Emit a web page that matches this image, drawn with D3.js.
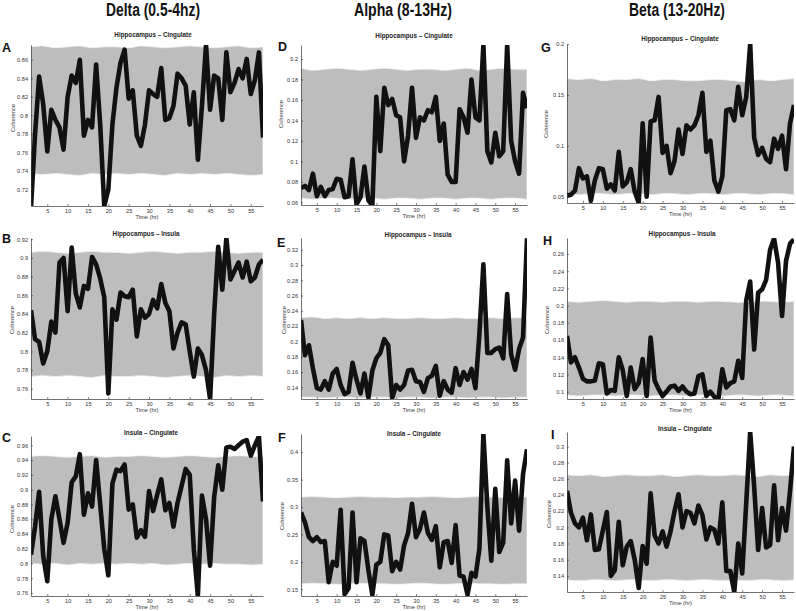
<!DOCTYPE html>
<html><head><meta charset="utf-8">
<script src="https://cdn.jsdelivr.net/npm/d3@7"></script>
<style>body{margin:0;background:#fff}</style>
</head><body><svg id="c" width="796" height="611"></svg>
<script>
// ---------- DATA ----------
const hours = d3.range(1, 59);            // 1..58 hr
const bandHours = [1,4,7,10,13,16,19,22,25,28,31,34,37,40,43,46,49,52,55,58];
const xTicks = [5,10,15,20,25,30,35,40,45,50,55];

const bandNames = ["Delta (0.5-4hz)", "Alpha (8-13Hz)", "Beta (13-20Hz)"];
const pairNames = ["Hippocampus \u2013 Cingulate", "Hippocampus \u2013 Insula", "Insula \u2013 Cingulate"];
const panelLetters = ["A","B","C","D","E","F","G","H","I"];

// Delta
const deltaHippCing = [0.700,0.780,0.842,0.812,0.761,0.806,0.795,0.787,0.763,0.820,0.843,0.835,0.860,0.778,0.795,0.787,0.855,0.790,0.702,0.720,
  0.790,0.830,0.857,0.871,0.818,0.827,0.778,0.767,0.790,0.827,0.823,0.820,0.851,0.795,0.797,0.810,0.845,0.840,0.832,0.790,
  0.825,0.752,0.810,0.876,0.806,0.843,0.840,0.795,0.868,0.825,0.835,0.850,0.840,0.861,0.823,0.838,0.868,0.776];
const deltaHippIns = [0.844,0.813,0.810,0.787,0.800,0.832,0.820,0.895,0.900,0.843,0.911,0.862,0.847,0.870,0.867,0.901,0.893,0.878,0.858,0.755,
  0.845,0.834,0.863,0.859,0.858,0.866,0.816,0.845,0.836,0.840,0.855,0.846,0.872,0.852,0.843,0.803,0.820,0.831,0.829,0.800,
  0.773,0.803,0.796,0.780,0.749,0.840,0.912,0.866,0.921,0.877,0.886,0.895,0.879,0.896,0.875,0.879,0.893,0.898];
const deltaInsCing = [0.812,0.850,0.897,0.810,0.776,0.860,0.891,0.860,0.828,0.855,0.910,0.918,0.948,0.866,0.895,0.877,0.940,0.880,0.820,0.784,
  0.908,0.927,0.925,0.934,0.873,0.880,0.835,0.845,0.836,0.898,0.871,0.893,0.914,0.872,0.882,0.850,0.882,0.905,0.928,0.920,
  0.820,0.756,0.892,0.860,0.797,0.890,0.933,0.900,0.957,0.958,0.955,0.960,0.965,0.967,0.946,0.960,0.972,0.884];
// Alpha
const alphaHippCing = [0.074,0.076,0.072,0.088,0.066,0.075,0.066,0.072,0.073,0.083,0.082,0.065,0.066,0.102,0.058,0.065,0.095,0.062,0.057,0.163,
  0.110,0.172,0.155,0.161,0.145,0.143,0.100,0.125,0.172,0.123,0.143,0.140,0.150,0.148,0.163,0.120,0.137,0.087,0.080,0.080,
  0.151,0.143,0.128,0.180,0.143,0.140,0.214,0.110,0.099,0.128,0.105,0.110,0.214,0.120,0.100,0.088,0.167,0.152];
const alphaHippIns = [0.228,0.182,0.195,0.165,0.139,0.137,0.148,0.137,0.158,0.164,0.143,0.131,0.134,0.172,0.150,0.132,0.158,0.126,0.162,0.178,
  0.185,0.203,0.195,0.126,0.143,0.137,0.143,0.162,0.163,0.148,0.147,0.134,0.152,0.155,0.168,0.129,0.148,0.137,0.133,0.165,
  0.143,0.160,0.150,0.164,0.139,0.210,0.301,0.185,0.185,0.190,0.192,0.178,0.262,0.183,0.163,0.190,0.205,0.335];
const alphaInsCing = [0.290,0.272,0.245,0.238,0.245,0.236,0.238,0.163,0.200,0.193,0.295,0.141,0.152,0.290,0.163,0.243,0.238,0.185,0.140,0.195,
  0.200,0.250,0.248,0.183,0.200,0.186,0.230,0.252,0.306,0.245,0.260,0.290,0.253,0.240,0.265,0.190,0.236,0.238,0.198,0.267,
  0.175,0.173,0.140,0.180,0.173,0.224,0.433,0.300,0.202,0.333,0.218,0.235,0.385,0.270,0.348,0.257,0.360,0.405];
// Beta
const betaHippCing = [0.051,0.052,0.056,0.078,0.068,0.070,0.046,0.066,0.078,0.077,0.058,0.062,0.056,0.094,0.060,0.064,0.077,0.055,0.044,0.122,
  0.050,0.124,0.125,0.148,0.093,0.100,0.073,0.085,0.116,0.092,0.120,0.116,0.120,0.130,0.152,0.094,0.105,0.066,0.055,0.070,
  0.135,0.136,0.125,0.158,0.130,0.148,0.200,0.108,0.091,0.098,0.087,0.084,0.107,0.097,0.110,0.077,0.122,0.140];
const betaHippIns = [0.165,0.134,0.140,0.128,0.115,0.112,0.112,0.113,0.133,0.132,0.098,0.102,0.101,0.140,0.125,0.095,0.128,0.103,0.110,0.138,
  0.095,0.163,0.113,0.103,0.095,0.100,0.106,0.107,0.101,0.106,0.100,0.097,0.098,0.118,0.120,0.095,0.100,0.094,0.091,0.126,
  0.105,0.110,0.112,0.136,0.116,0.206,0.228,0.149,0.215,0.219,0.230,0.265,0.278,0.250,0.188,0.252,0.272,0.277];
const betaInsCing = [0.245,0.218,0.205,0.200,0.212,0.184,0.216,0.172,0.173,0.196,0.219,0.140,0.147,0.207,0.153,0.176,0.183,0.160,0.125,0.177,
  0.155,0.242,0.190,0.180,0.195,0.176,0.195,0.220,0.241,0.200,0.220,0.218,0.205,0.227,0.215,0.185,0.200,0.197,0.180,0.231,
  0.146,0.146,0.120,0.180,0.143,0.230,0.318,0.250,0.172,0.224,0.175,0.178,0.252,0.184,0.224,0.196,0.245,0.300];

// Surrogate (shuffled) significance bands: upper / lower edges at bandHours
const bandAHi = [0.874,0.875,0.873,0.874,0.875,0.873,0.874,0.874,0.873,0.875,0.874,0.873,0.874,0.875,0.874,0.873,0.874,0.875,0.873,0.874];
const bandALo = [0.737,0.736,0.737,0.736,0.735,0.737,0.736,0.737,0.736,0.737,0.736,0.735,0.737,0.736,0.737,0.736,0.737,0.736,0.735,0.736];
const bandBHi = [0.906,0.907,0.906,0.905,0.906,0.907,0.906,0.906,0.905,0.906,0.907,0.906,0.905,0.906,0.906,0.907,0.906,0.905,0.906,0.906];
const bandBLo = [0.773,0.774,0.773,0.774,0.773,0.772,0.774,0.773,0.773,0.774,0.773,0.772,0.773,0.774,0.773,0.772,0.774,0.773,0.774,0.773];
const bandCHi = [0.945,0.946,0.945,0.944,0.945,0.946,0.944,0.945,0.945,0.946,0.945,0.944,0.945,0.946,0.945,0.944,0.945,0.946,0.945,0.944];
const bandCLo = [0.800,0.799,0.800,0.798,0.800,0.799,0.800,0.799,0.800,0.799,0.800,0.798,0.799,0.800,0.799,0.800,0.799,0.799,0.798,0.799];
const bandDHi = [0.191,0.189,0.190,0.191,0.190,0.189,0.190,0.191,0.190,0.189,0.190,0.190,0.189,0.190,0.191,0.189,0.190,0.191,0.190,0.190];
const bandDLo = [0.064,0.063,0.064,0.064,0.063,0.064,0.064,0.063,0.064,0.064,0.063,0.064,0.064,0.063,0.064,0.064,0.063,0.064,0.064,0.063];
const bandEHi = [0.231,0.232,0.230,0.231,0.230,0.231,0.230,0.231,0.230,0.230,0.231,0.230,0.230,0.231,0.230,0.230,0.231,0.230,0.231,0.230];
const bandELo = [0.127,0.127,0.126,0.127,0.127,0.126,0.127,0.127,0.126,0.127,0.127,0.126,0.127,0.127,0.126,0.127,0.127,0.126,0.127,0.127];
const bandFHi = [0.318,0.319,0.318,0.317,0.318,0.319,0.318,0.318,0.317,0.318,0.318,0.319,0.318,0.317,0.318,0.319,0.318,0.317,0.318,0.318];
const bandFLo = [0.160,0.161,0.160,0.159,0.160,0.161,0.160,0.160,0.159,0.160,0.161,0.160,0.159,0.160,0.161,0.160,0.160,0.159,0.160,0.160];
const bandGHi = [0.166,0.165,0.166,0.164,0.165,0.165,0.166,0.164,0.165,0.165,0.164,0.164,0.165,0.165,0.164,0.163,0.165,0.164,0.165,0.166];
const bandGLo = [0.053,0.052,0.053,0.053,0.052,0.053,0.053,0.052,0.053,0.053,0.052,0.053,0.053,0.052,0.053,0.053,0.052,0.053,0.053,0.052];
const bandHHi = [0.205,0.204,0.205,0.206,0.205,0.204,0.205,0.205,0.204,0.205,0.205,0.204,0.205,0.205,0.204,0.204,0.205,0.205,0.204,0.205];
const bandHLo = [0.096,0.095,0.096,0.096,0.095,0.096,0.096,0.095,0.096,0.096,0.095,0.096,0.096,0.095,0.096,0.096,0.095,0.096,0.096,0.095];
const bandIHi = [0.265,0.264,0.265,0.263,0.264,0.265,0.264,0.264,0.265,0.263,0.264,0.265,0.264,0.264,0.265,0.264,0.263,0.265,0.264,0.265];
const bandILo = [0.135,0.134,0.135,0.135,0.134,0.135,0.135,0.134,0.135,0.135,0.134,0.135,0.135,0.134,0.135,0.134,0.135,0.135,0.134,0.135];

const yTicksA = [0.72,0.74,0.76,0.78,0.80,0.82,0.84,0.86];
const yTicksB = [0.76,0.78,0.80,0.82,0.84,0.86,0.88,0.90,0.92];
const yTicksC = [0.76,0.78,0.80,0.82,0.84,0.86,0.88,0.90,0.92,0.94,0.96];
const yTicksD = [0.06,0.08,0.10,0.12,0.14,0.16,0.18,0.20];
const yTicksE = [0.14,0.16,0.18,0.20,0.22,0.24,0.26,0.28,0.30,0.32];
const yTicksF = [0.15,0.20,0.25,0.30,0.35,0.40];
const yTicksG = [0.05,0.10,0.15,0.20];
const yTicksH = [0.10,0.12,0.14,0.16,0.18,0.20,0.22,0.24,0.26];
const yTicksI = [0.14,0.16,0.18,0.20,0.22,0.24,0.26,0.28,0.30];

// ---------- LAYOUT ----------
const panels = [
 {L:"A", d:deltaHippCing, hi:bandAHi, lo:bandALo, dom:[0.702,0.876], t:yTicksA, pair:0, x0:31, x1:263, top:45, bot:206, tx:153, ty:37, lx:2, ly:52, yx:12.5, yy:118},
 {L:"B", d:deltaHippIns,  hi:bandBHi, lo:bandBLo, dom:[0.749,0.9213], t:yTicksB, pair:1, x0:31, x1:263, top:238, bot:399, tx:146, ty:236, lx:2, ly:243, yx:12, yy:320},
 {L:"C", d:deltaInsCing,  hi:bandCHi, lo:bandCLo, dom:[0.756,0.9726], t:yTicksC, pair:2, x0:31, x1:263, top:436, bot:596, tx:151, ty:434.5, lx:2, ly:442, yx:12, yy:519},
 {L:"D", d:alphaHippCing, hi:bandDHi, lo:bandDLo, dom:[0.0574,0.2137], t:yTicksD, pair:0, x0:301, x1:527, top:45, bot:205, tx:414, ty:37.5, lx:278, ly:51, yx:281, yy:114},
 {L:"E", d:alphaHippIns,  hi:bandEHi, lo:bandELo, dom:[0.1247,0.3353], t:yTicksE, pair:1, x0:301, x1:527, top:238, bot:399, tx:418, ty:237, lx:277, ly:247, yx:283.5, yy:320},
 {L:"F", d:alphaInsCing,  hi:bandFHi, lo:bandFLo, dom:[0.1378,0.433], t:yTicksF, pair:2, x0:301, x1:527, top:434, bot:596, tx:414, ty:436, lx:278, ly:442, yx:281.5, yy:516},
 {L:"G", d:betaHippCing,  hi:bandGHi, lo:bandGLo, dom:[0.0438,0.2], t:yTicksG, pair:0, x0:567, x1:794, top:44, bot:203, tx:680, ty:41, lx:541, ly:52, yx:546, yy:124},
 {L:"H", d:betaHippIns,   hi:bandHHi, lo:bandHLo, dom:[0.0915,0.2786], t:yTicksH, pair:1, x0:567, x1:794, top:238, bot:399, tx:682, ty:235.5, lx:543, ly:245, yx:547, yy:320},
 {L:"I", d:betaInsCing,   hi:bandIHi, lo:bandILo, dom:[0.12,0.318], t:yTicksI, pair:2, x0:567, x1:794, top:432, bot:592, tx:685, ty:431, lx:551, ly:439, yx:549, yy:514}
];

const svg = d3.select("#c");
const FONT = "'Liberation Sans', Arial, Helvetica, sans-serif";
const fmt = v => String(+v.toFixed(3));

// column headers (condensed bold, as in the original figure)
const headerX = [153, 403, 677];
const headerW = [94, 98, 96];
bandNames.forEach((n, i) => {
  svg.append("text").attr("x", headerX[i]).attr("y", 16)
    .attr("text-anchor", "middle").attr("font-family", "'Liberation Sans Narrow', 'Arial Narrow', " + FONT)
    .attr("font-weight", "bold").attr("font-size", 17.5).attr("fill", "#111")
    .attr("textLength", headerW[i]).attr("lengthAdjust", "spacingAndGlyphs").text(n);
});

const defs = svg.append("defs");

panels.forEach((p, i) => {
  const x = d3.scaleLinear().domain([1, 58]).range([p.x0, p.x1]);
  const y = d3.scaleLinear().domain(p.dom).range([p.bot, p.top]);
  const g = svg.append("g");

  defs.append("clipPath").attr("id", "clip" + i)
    .append("rect").attr("x", p.x0).attr("y", p.top)
    .attr("width", p.x1 - p.x0).attr("height", p.bot - p.top);

  const plot = g.append("g").attr("clip-path", `url(#clip${i})`);

  const area = d3.area()
    .x((d, k) => x(bandHours[k]))
    .y0((d, k) => y(p.lo[k]))
    .y1((d, k) => y(p.hi[k]))
    .curve(d3.curveCatmullRom);
  plot.append("path").datum(p.hi).attr("d", area)
    .attr("fill", "#bdbdbd").attr("stroke", "#f2f2f2").attr("stroke-width", 0.8);

  const line = d3.line().x((d, k) => x(hours[k])).y(d => y(d));
  plot.append("path").datum(p.d).attr("d", line)
    .attr("fill", "none").attr("stroke", "#111").attr("stroke-width", 4.6)
    .attr("stroke-linejoin", "round").attr("stroke-linecap", "butt");

  // axes
  const ya = g.append("g").attr("transform", `translate(${p.x0},0)`)
    .call(d3.axisLeft(y).tickValues(p.t).tickFormat(fmt).tickSizeInner(-2).tickSizeOuter(0).tickPadding(3));
  const xa = g.append("g").attr("transform", `translate(0,${p.bot})`)
    .call(d3.axisBottom(x).tickValues(xTicks).tickSizeInner(-2).tickSizeOuter(0).tickPadding(3));
  [ya, xa].forEach(a => {
    a.select(".domain").attr("stroke", "#333").attr("stroke-width", 0.7);
    a.selectAll(".tick line").attr("stroke", "#333").attr("stroke-width", 0.6);
    a.selectAll("text").attr("font-family", FONT).attr("font-size", 5.6).attr("fill", "#333");
  });

  // labels
  g.append("text").attr("x", p.tx).attr("y", p.ty).attr("text-anchor", "middle")
    .attr("font-family", FONT).attr("font-weight", "bold").attr("font-size", 6.3)
    .attr("fill", "#222").text(pairNames[p.pair]);
  g.append("text").attr("x", p.lx).attr("y", p.ly)
    .attr("font-family", FONT).attr("font-weight", "bold").attr("font-size", 12.5)
    .attr("fill", "#111").text(panelLetters[i]);
  g.append("text").attr("transform", `translate(${p.yx},${p.yy}) rotate(-90)`)
    .attr("text-anchor", "middle").attr("dy", "0.35em")
    .attr("font-family", FONT).attr("font-size", 5.7).attr("fill", "#333").text("Coherence");
  g.append("text").attr("x", (p.x0 + p.x1) / 2).attr("y", p.bot + 13)
    .attr("text-anchor", "middle")
    .attr("font-family", FONT).attr("font-size", 5.7).attr("fill", "#333").text("Time (hr)");
});
</script></body></html>
